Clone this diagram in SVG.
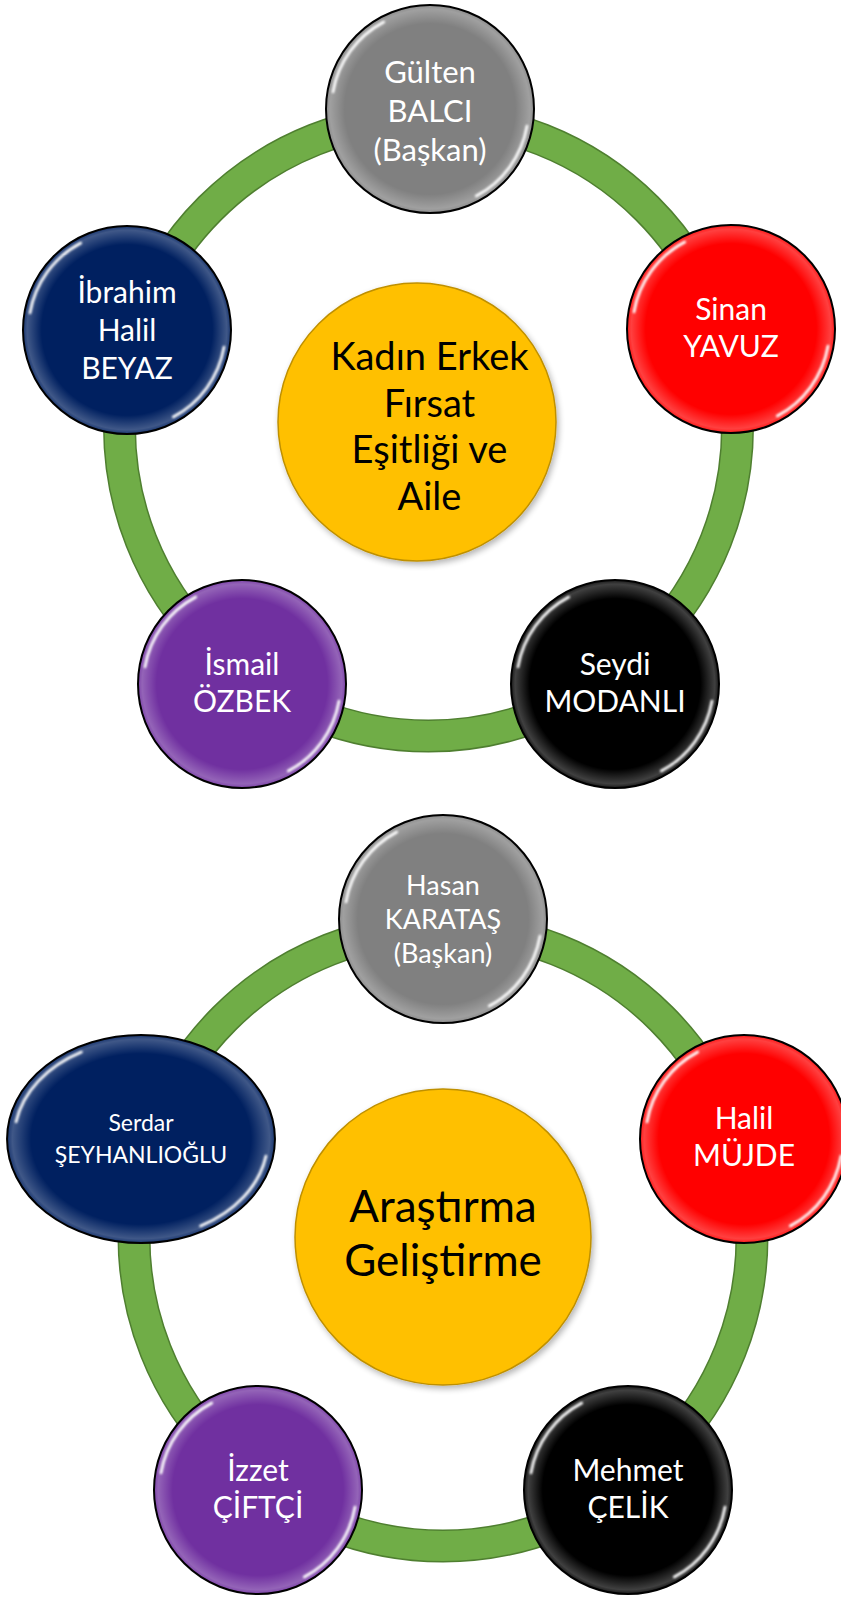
<svg xmlns="http://www.w3.org/2000/svg" xmlns:xlink="http://www.w3.org/1999/xlink" width="841" height="1597" viewBox="0 0 841 1597">
<style>
.ring-edge{fill:none;stroke:#4F7F30;stroke-width:33}
.ring{fill:none;stroke:#70AD47;stroke-width:30}
.hub{fill:#FFC000;stroke:#BF9000;stroke-width:1.5}
.lbl{font-family:Lato,"Liberation Sans",sans-serif;fill:#FFFFFF;text-anchor:middle}
.hubt{font-family:Lato,"Liberation Sans",sans-serif;fill:#000000;text-anchor:middle}
.outline{fill:none;stroke:#000000;stroke-width:2}
.hl{fill:none;stroke:#FFFFFF;stroke-linecap:round}
</style>
<defs>
<radialGradient id="rim" cx="0.5" cy="0.5" r="0.5">
<stop offset="0.82" stop-color="#FFFFFF" stop-opacity="0"/>
<stop offset="0.96" stop-color="#FFFFFF" stop-opacity="0.25"/>
<stop offset="1" stop-color="#FFFFFF" stop-opacity="0.1"/>
</radialGradient>
<filter id="soft" x="-20%" y="-20%" width="140%" height="140%"><feGaussianBlur stdDeviation="1"/></filter>
<filter id="shadow" x="-20%" y="-20%" width="140%" height="140%"><feGaussianBlur in="SourceAlpha" stdDeviation="3"/><feOffset dx="2" dy="3"/><feComponentTransfer><feFuncA type="linear" slope="0.3"/></feComponentTransfer><feMerge><feMergeNode/><feMergeNode in="SourceGraphic"/></feMerge></filter>
<g id="gloss">
<circle r="104" fill="url(#rim)"/>
<g filter="url(#soft)">
<path class="hl" d="M -97 -17.1 A 98.5 98.5 0 0 1 -46.2 -87" stroke-width="2.6" vector-effect="non-scaling-stroke"/>
<path class="hl" d="M 97 17.1 A 98.5 98.5 0 0 1 46.2 87" stroke-width="2.6" vector-effect="non-scaling-stroke"/>
</g>
<circle class="outline" r="104" vector-effect="non-scaling-stroke"/>
</g>
</defs>

<g id="connectors">
<circle class="ring-edge" cx="428.5" cy="427" r="309"/>
<circle class="ring" cx="428.5" cy="427" r="309"/>
<circle class="ring-edge" cx="443" cy="1237" r="309"/>
<circle class="ring" cx="443" cy="1237" r="309"/>
</g>

<g id="hub-top">
<circle class="hub" cx="417" cy="422" r="139" filter="url(#shadow)"/>
<text class="hubt" font-size="38" x="429.5" y="370">Kadın Erkek</text>
<text class="hubt" font-size="38" x="429.5" y="417">Fırsat</text>
<text class="hubt" font-size="38" x="429.5" y="463">Eşitliği ve</text>
<text class="hubt" font-size="38" x="429.5" y="510">Aile</text>
</g>

<g id="node-gulten" transform="translate(430,109)">
<circle r="104" fill="#808080"/><use href="#gloss"/>
<text class="lbl" font-size="31" x="0" y="-26">Gülten</text>
<text class="lbl" font-size="31" x="0" y="13">BALCI</text>
<text class="lbl" font-size="31" x="0" y="52">(Başkan)</text>
</g>

<g id="node-sinan" transform="translate(731,329)">
<circle r="104" fill="#FF0000"/><use href="#gloss"/>
<text class="lbl" font-size="30" x="0" y="-9">Sinan</text>
<text class="lbl" font-size="30" x="0" y="28">YAVUZ</text>
</g>

<g id="node-seydi" transform="translate(615,684)">
<circle r="104" fill="#000000"/><use href="#gloss"/>
<text class="lbl" font-size="30" x="0" y="-9">Seydi</text>
<text class="lbl" font-size="30" x="0" y="28">MODANLI</text>
</g>

<g id="node-ismail" transform="translate(242,684)">
<circle r="104" fill="#7030A0"/><use href="#gloss"/>
<text class="lbl" font-size="30" x="0" y="-9">İsmail</text>
<text class="lbl" font-size="30" x="0" y="28">ÖZBEK</text>
</g>

<g id="node-ibrahim" transform="translate(127,330)">
<circle r="104" fill="#002060"/><use href="#gloss"/>
<text class="lbl" font-size="30" x="0" y="-27">İbrahim</text>
<text class="lbl" font-size="30" x="0" y="11">Halil</text>
<text class="lbl" font-size="30" x="0" y="49">BEYAZ</text>
</g>

<g id="hub-bottom">
<circle class="hub" cx="443" cy="1237" r="148" filter="url(#shadow)"/>
<text class="hubt" font-size="44" x="443" y="1222">Araştırma</text>
<text class="hubt" font-size="44" x="443" y="1276">Geliştirme</text>
</g>

<g id="node-hasan" transform="translate(443,919)">
<circle r="104" fill="#808080"/><use href="#gloss"/>
<text class="lbl" font-size="27" x="0" y="-24">Hasan</text>
<text class="lbl" font-size="27" x="0" y="10">KARATAŞ</text>
<text class="lbl" font-size="27" x="0" y="44">(Başkan)</text>
</g>

<g id="node-halil" transform="translate(744,1139)">
<circle r="104" fill="#FF0000"/><use href="#gloss"/>
<text class="lbl" font-size="30" x="0" y="-10">Halil</text>
<text class="lbl" font-size="30" x="0" y="27">MÜJDE</text>
</g>

<g id="node-mehmet" transform="translate(628,1490)">
<circle r="104" fill="#000000"/><use href="#gloss"/>
<text class="lbl" font-size="30" x="0" y="-9">Mehmet</text>
<text class="lbl" font-size="30" x="0" y="28">ÇELİK</text>
</g>

<g id="node-izzet" transform="translate(258,1490)">
<circle r="104" fill="#7030A0"/><use href="#gloss"/>
<text class="lbl" font-size="30" x="0" y="-9">İzzet</text>
<text class="lbl" font-size="30" x="0" y="28">ÇİFTÇİ</text>
</g>

<g id="node-serdar" transform="translate(141,1139)">
<g transform="scale(1.288,1)">
<circle r="104" fill="#002060"/><use href="#gloss"/>
</g>
<text class="lbl" font-size="23" x="0" y="-8">Serdar</text>
<text class="lbl" font-size="23" x="0" y="24">ŞEYHANLIOĞLU</text>
</g>
</svg>
